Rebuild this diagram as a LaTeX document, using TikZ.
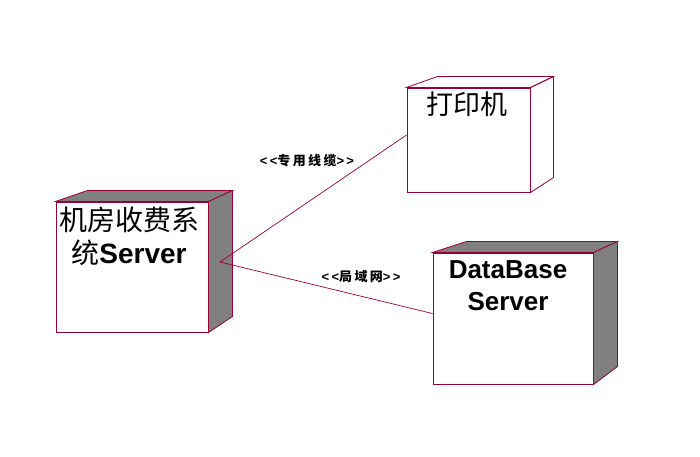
\documentclass[tikz,border=0pt]{standalone}
\usepackage{fontspec}
\setmainfont{Liberation Sans}
\newfontfamily\cjk{Noto Sans CJK SC}
\newfontfamily\cjktag[LetterSpace=18]{Noto Sans CJK SC}
\newfontfamily\lattag[LetterSpace=18,Ligatures=NoCommon]{Liberation Sans}
\definecolor{edge}{RGB}{153,0,51}
\definecolor{side}{RGB}{128,128,128}
\tikzset{
  front/.style={draw=edge, line width=1pt, fill=white, inner sep=0pt},
  face/.style={draw=edge, line width=0.8pt},
  link/.style={draw=edge, line width=0.7pt},
  title/.style={align=center, inner sep=0pt, font=\fontsize{27}{33}\selectfont},
  tag/.style={inner sep=0pt, font=\fontsize{13}{15}\selectfont\bfseries}
}
\begin{document}
\begin{tikzpicture}[x=1pt,y=-1pt]
                \useasboundingbox (0,0) rectangle (700,456);

                \node[front, minimum width=152pt, minimum height=130pt] (srv) at (132,267) {};
                \node[front, minimum width=123pt, minimum height=104pt] (prn) at (468.5,140) {};
                \node[front, minimum width=160pt, minimum height=131pt] (db) at (513,318.5) {};

                \draw[face, fill=side] (srv.north west) -- ++(32,-11) -- ([shift={(24,-11)}]srv.north east) -- (srv.north east) -- cycle;
                \draw[face, fill=side] (srv.north east) -- ([shift={(24,-11)}]srv.north east) -- ([shift={(24,-16)}]srv.south east) -- (srv.south east) -- cycle;
                \draw[face] (prn.north west) -- ++(31,-11) -- ([shift={(23,-11)}]prn.north east) -- (prn.north east) -- cycle;
                \draw[face] (prn.north east) -- ([shift={(23,-11)}]prn.north east) -- ([shift={(23,-15)}]prn.south east) -- (prn.south east) -- cycle;
                \draw[face, fill=side] (db.north west) -- ++(34,-11) -- ([shift={(24,-11)}]db.north east) -- (db.north east) -- cycle;
                \draw[face, fill=side] (db.north east) -- ([shift={(24,-11)}]db.north east) -- ([shift={(24,-18)}]db.south east) -- (db.south east) -- cycle;

                \node[title, font=\fontsize{28}{33}\selectfont] (srvname) at (129,236) {{\cjk 机房收费系}\\{\cjk 统}\textbf{Server}};
                \node[title] (prnname) at (467,104) {\cjk 打印机};
                \node[title, font=\fontsize{26}{32}\selectfont\bfseries] (dbname) at (508,286) {DataBase\\Server};

                \coordinate (hub) at (220,262);
                \draw[link] (hub) -- ([yshift=5pt]prn.west);
                \draw[link] (hub) -- ([yshift=5pt]db.west);

                \node[tag] (cable) at (307,161) {{\lattag\bfseries <<}{\cjktag\bfseries 专用线缆}{\lattag\bfseries >>}};
                \node[tag] (lan) at (361,277) {{\lattag\bfseries <<}{\cjktag\bfseries 局域网}{\lattag\bfseries >>}};
            \end{tikzpicture}
\end{document}
